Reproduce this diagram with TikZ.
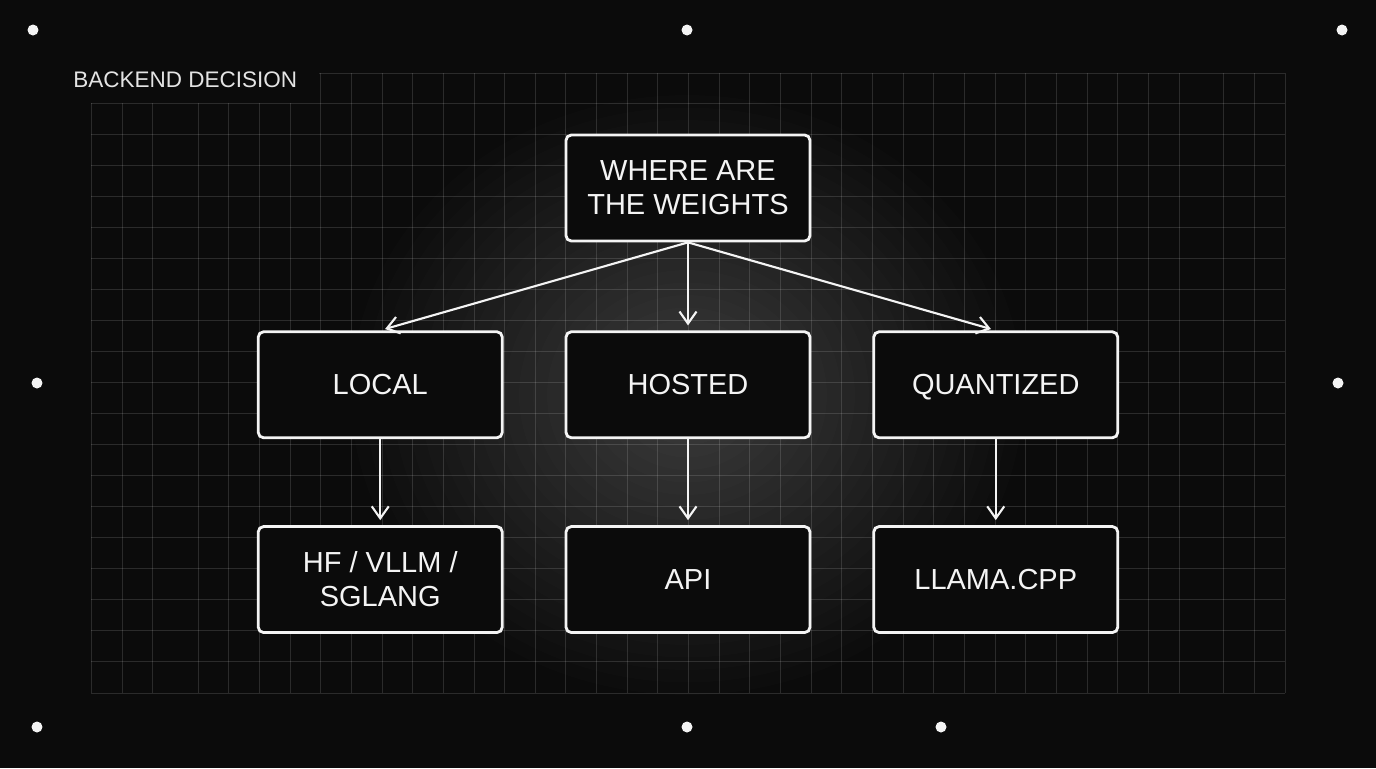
\documentclass[tikz,border=0pt]{standalone}
\usepackage{fontspec}
\setmainfont{Liberation Sans}
\usetikzlibrary{positioning,arrows.meta}
\definecolor{bgc}{HTML}{0B0B0B}
\definecolor{inkc}{HTML}{F4F4F4}
\definecolor{titlec}{HTML}{E4E4E4}
\begin{document}
\begin{tikzpicture}[
  x=0.02cm, y=-0.02cm,
  node distance=1.76cm and 1.22cm,
  box/.style={draw=inkc, line width=1.6pt, rounded corners=3pt, fill=bgc, text=inkc, align=center,
    minimum width=4.88cm, minimum height=2.12cm, inner sep=0pt, font=\fontsize{16.5}{19.4}\selectfont},
  arrow/.style={-{Straight Barb[length=2.4mm,width=3.4mm]}, draw=inkc, line width=1.2pt, shorten >=0.1cm},
  gridline/.style={draw=white, draw opacity=0.135, line width=0.5pt},
  title/.style={text=titlec, inner sep=0pt, font=\fontsize{12.8}{15}\selectfont}
]
% backdrop
\fill[bgc] (0,0) rectangle (1376,768);
\foreach \r in {1,...,24}
  \fill[white, opacity=0.012] (687,395) ellipse [x radius=\r*0.28cm, y radius=\r*0.25cm];
% grid
\foreach \gx in {91,122,152,198,228.7,259.3,290}
  \draw[gridline] (\gx,103) -- (\gx,693);
\foreach \k in {4,...,32}
  \draw[gridline] ({198+\k*30.66},73) -- ({198+\k*30.66},693);
\foreach \gx in {1223,1254,1285}
  \draw[gridline] (\gx,73) -- (\gx,693);
\draw[gridline] (319,73) -- (1285,73);
\foreach \j in {0,...,19}
  \draw[gridline] (91,{103+\j*31.05}) -- (1285,{103+\j*31.05});
% corner dots
\foreach \p in {(33,30),(687,30),(1342,30),(37,383),(1338,383),(37,727),(687,727),(941,727)}
  \fill[inkc] \p circle (0.11cm);
\node[title, anchor=base west] (heading) at (73,87) {BACKEND DECISION};
% tree
\node[box] (where) at (688,188) {WHERE ARE\\THE WEIGHTS};
\node[box] (hosted) [below=of where] {HOSTED};
\node[box] (local) [left=of hosted] {LOCAL};
\node[box] (quant) [right=of hosted] {\smash{QUANTIZED}\vphantom{L}};
\node[box] (hf) [below=1.72cm of local] {HF / VLLM /\\SGLANG};
\node[box] (api) [below=1.72cm of hosted] {API};
\node[box] (llama) [below=1.72cm of quant] {LLAMA.CPP};
\draw[arrow] (where.south) -- (local.north);
\draw[arrow] (where.south) -- (hosted.north);
\draw[arrow] (where.south) -- (quant.north);
\draw[arrow] (local) -- (hf);
\draw[arrow] (hosted) -- (api);
\draw[arrow] (quant) -- (llama);
\end{tikzpicture}
\end{document}
